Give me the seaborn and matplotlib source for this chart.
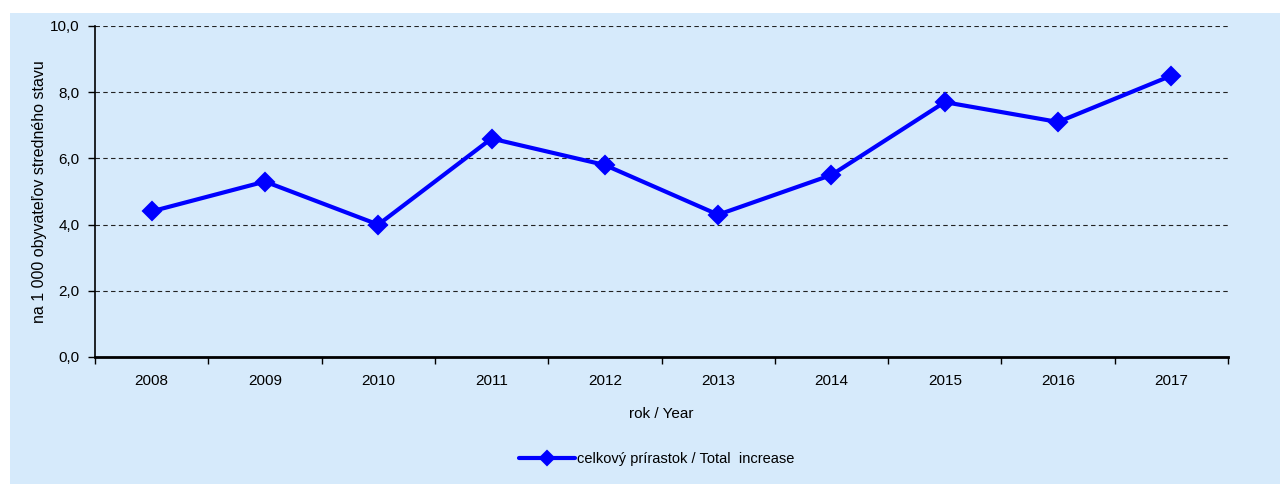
import numpy as np
import pandas as pd
import matplotlib
matplotlib.use('Agg')
import matplotlib.pyplot as plt
from matplotlib.patches import Rectangle
import seaborn as sns

# chart data
years = ['2008', '2009', '2010', '2011', '2012', '2013', '2014', '2015', '2016', '2017']
increase = [4.4, 5.3, 4.0, 6.6, 5.8, 4.3, 5.5, 7.7, 7.1, 8.5]
y_ticks = [0, 2, 4, 6, 8, 10]
series_name = 'celkový prírastok / Total  increase'

bg = '#d6eafb'

sns.set_theme(style='white')
plt.rcParams['font.family'] = ['Liberation Sans', 'DejaVu Sans']
plt.rcParams['text.color'] = 'black'
plt.rcParams['axes.labelcolor'] = 'black'
plt.rcParams['xtick.color'] = 'black'
plt.rcParams['ytick.color'] = 'black'

df = pd.DataFrame({'pos': np.arange(len(years)), 'value': increase})

fig = plt.figure(figsize=(12.87, 4.84), dpi=100)
fig.patch.set_facecolor('white')
fig.add_artist(Rectangle((10 / 1287, 0), 1270 / 1287, 471 / 484,
                         transform=fig.transFigure, facecolor=bg,
                         edgecolor='none', zorder=-10))

ax = fig.add_axes([95 / 1287, 127 / 484, 1133 / 1287, 331 / 484])
ax.set_facecolor(bg)

sns.lineplot(data=df, x='pos', y='value', ax=ax, color='#0000ff',
             linewidth=3.0, marker='D', markersize=9.5, markeredgecolor='#0000ff',
             markeredgewidth=1.5, label=series_name)
for ln in ax.lines:
    ln.set_solid_joinstyle('round')

ax.set_xlim(-0.5, len(years) - 0.5)
ax.set_ylim(0, 10)
ax.set_yticks(y_ticks)
ax.set_yticklabels([f'{v:.1f}'.replace('.', ',') for v in y_ticks], fontsize=11)
ax.yaxis.grid(True, linestyle=(0, (4, 3)), color='#222222', linewidth=0.8)
ax.set_axisbelow(True)

# category labels centred, ticks on the boundaries
ax.set_xticks(np.arange(-0.5, len(years), 1))
ax.set_xticklabels([])
ax.set_xticks(np.arange(len(years)), minor=True)
ax.set_xticklabels(years, minor=True, fontsize=11)
ax.tick_params(axis='x', which='major', direction='out', length=5, width=1, color='black', bottom=True)
ax.tick_params(axis='x', which='minor', length=0, pad=12)
ax.tick_params(axis='y', direction='out', length=5, width=1, color='black', left=True, pad=6)

for s in ['top', 'right']:
    ax.spines[s].set_visible(False)
ax.spines['left'].set_color('black')
ax.spines['left'].set_linewidth(1.2)
ax.spines['bottom'].set_color('black')
ax.spines['bottom'].set_linewidth(2)

ax.set_xlabel('rok / Year', fontsize=11, labelpad=14)
ax.set_ylabel('na 1 000 obyvateľov stredného stavu', fontsize=11.5, labelpad=2)

leg = ax.legend(loc='center', frameon=False, fontsize=10.5,
                handlelength=3.8, handletextpad=0.2, markerscale=0.8)
leg.set_bbox_to_anchor((657 / 1287, 25 / 484), transform=fig.transFigure)

fig.savefig('out.png', dpi=100, facecolor=fig.get_facecolor())
